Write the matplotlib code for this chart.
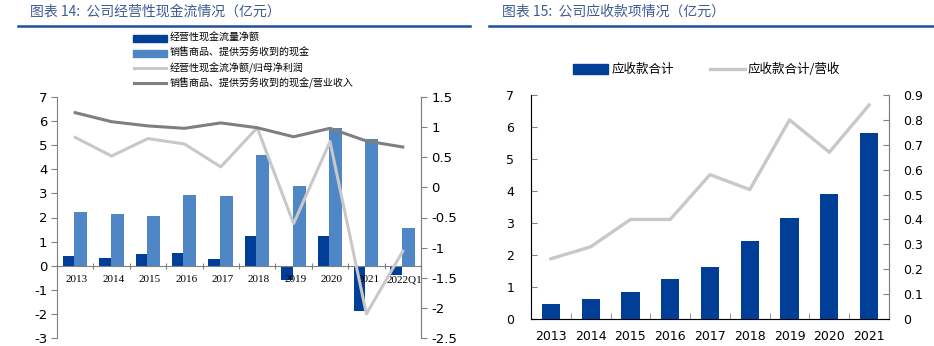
import numpy as np
import matplotlib.pyplot as plt
from matplotlib.patches import Rectangle
from matplotlib.lines import Line2D

plt.rcParams['font.family'] = ['Noto Sans CJK SC', 'DejaVu Sans']
plt.rcParams['axes.unicode_minus'] = False

# --- 图表14 数据 ---
years_l = ['2013', '2014', '2015', '2016', '2017', '2018', '2019', '2020', '2021', '2022Q1']
net_cf = [0.41, 0.30, 0.48, 0.54, 0.28, 1.22, -0.59, 1.25, -1.90, -0.39]
sales_cash = [2.23, 2.16, 2.07, 2.95, 2.89, 4.60, 3.32, 5.70, 5.25, 1.57]
cf_to_np = [0.83, 0.52, 0.81, 0.72, 0.34, 0.99, -0.60, 0.76, -2.10, -1.06]
cash_to_rev = [1.24, 1.09, 1.02, 0.98, 1.07, 0.99, 0.84, 0.98, 0.77, 0.67]

# --- 图表15 数据 ---
years_r = ['2013', '2014', '2015', '2016', '2017', '2018', '2019', '2020', '2021']
recv = [0.48, 0.62, 0.85, 1.25, 1.62, 2.45, 3.16, 3.90, 5.81]
recv_ratio = [0.242, 0.29, 0.40, 0.40, 0.58, 0.52, 0.80, 0.67, 0.86]

dark_blue = '#013E98'
light_blue = '#4F86C6'
light_gray = '#C8C8C8'
dark_gray = '#7F7F7F'
title_c = '#3C5A96'
spine_c = '#808080'
num_font = 'DejaVu Sans'

fig = plt.figure(figsize=(9.34, 3.46), dpi=100)

# --- 标题 ---
fig.text(30 / 934, 1 - 12 / 346, '图表 14:  公司经营性现金流情况（亿元）', fontsize=10,
         color=title_c, style='italic', va='center', ha='left')
fig.text(502 / 934, 1 - 12 / 346, '图表 15:  公司应收款项情况（亿元）', fontsize=10,
         color=title_c, style='italic', va='center', ha='left')
fig.add_artist(Line2D([18 / 934, 470 / 934], [1 - 26 / 346] * 2, color='#1F4E9A', lw=1.8))
fig.add_artist(Line2D([489 / 934, 1.0], [1 - 26 / 346] * 2, color='#1F4E9A', lw=1.8))

# --- 左图 ---
ax = fig.add_axes([57 / 934, 8 / 346, 364 / 934, 241 / 346])
x = np.arange(len(years_l))
ax.bar(x - 0.185, net_cf, width=0.31, color=dark_blue, zorder=2)
ax.bar(x + 0.15, sales_cash, width=0.36, color=light_blue, zorder=2)
ax.set_xlim(-0.5, len(years_l) - 0.5)
ax.set_ylim(-3, 7)
ax.set_yticks(range(-3, 8))
ax.spines['top'].set_visible(False)
ax.spines['bottom'].set_position(('data', 0))
for s in ['left', 'right', 'bottom']:
    ax.spines[s].set_color(spine_c)
ax.set_xticks(np.arange(len(years_l) + 1) - 0.5)
ax.set_xticklabels([])
ax.tick_params(axis='x', direction='inout', length=4, color=spine_c)
ax.tick_params(axis='y', direction='out', length=4, color=spine_c, labelsize=9.5, pad=3)
for t in ax.get_yticklabels():
    t.set_family(num_font)
for i, yl in enumerate(years_l):
    ax.text(i + 0.05, -0.58, yl, ha='center', va='center', fontsize=8, family='Liberation Serif')

ax2 = ax.twinx()
ax2.plot(x, cf_to_np, color=light_gray, lw=2.2, zorder=3)
ax2.plot(x, cash_to_rev, color=dark_gray, lw=2.2, zorder=3)
ax2.set_ylim(-2.5, 1.5)
ax2.set_yticks([-2.5, -2, -1.5, -1, -0.5, 0, 0.5, 1, 1.5])
ax2.set_yticklabels(['-2.5', '-2', '-1.5', '-1', '-0.5', '0', '0.5', '1', '1.5'], family=num_font)
for s in ['left', 'right', 'bottom', 'top']:
    ax2.spines[s].set_visible(s == 'right')
ax2.spines['right'].set_color(spine_c)
ax2.tick_params(axis='y', direction='out', length=4, color=spine_c, labelsize=9.5)

# 左图图例
leg_l = [('bar', dark_blue, '经营性现金流量净额'),
         ('bar', light_blue, '销售商品、提供劳务收到的现金'),
         ('line', light_gray, '经营性现金流净额/归母净利润'),
         ('line', dark_gray, '销售商品、提供劳务收到的现金/营业收入')]
for k, (kind, c, lab) in enumerate(leg_l):
    yy = 1 - (38 + 15 * k) / 346
    if kind == 'bar':
        fig.add_artist(Rectangle((133 / 934, yy - 3.5 / 346), 34 / 934, 7 / 346,
                                 color=c, transform=fig.transFigure))
    else:
        fig.add_artist(Line2D([134 / 934, 166 / 934], [yy, yy], color=c, lw=2.2))
    fig.text(170 / 934, yy, lab, fontsize=7.2, va='center', ha='left')

# --- 右图 ---
bx = fig.add_axes([531 / 934, 27 / 346, 358 / 934, 224 / 346])
xr = np.arange(len(years_r))
bx.bar(xr, recv, width=0.46, color=dark_blue, zorder=2)
bx.set_xlim(-0.5, len(years_r) - 0.5)
bx.set_ylim(0, 7)
bx.set_yticks(range(0, 8))
bx.spines['top'].set_visible(False)
for s in ['left', 'right', 'bottom']:
    bx.spines[s].set_color(spine_c)
bx.set_xticks(xr)
bx.set_xticklabels(years_r, family=num_font)
bx.set_xticks(np.arange(len(years_r) + 1) - 0.5, minor=True)
bx.tick_params(axis='x', which='major', length=0, labelsize=9, pad=8)
bx.tick_params(axis='x', which='minor', direction='in', length=4, color=spine_c)
bx.tick_params(axis='y', direction='in', length=4, color=spine_c, labelsize=9, pad=12)
for t in bx.get_yticklabels():
    t.set_family(num_font)

bx2 = bx.twinx()
bx2.plot(xr, recv_ratio, color=light_gray, lw=2.4, zorder=3)
bx2.set_ylim(0, 0.9)
bx2.set_yticks(np.round(np.arange(0, 0.91, 0.1), 1))
bx2.set_yticklabels(['0'] + ['%.1f' % v for v in np.arange(0.1, 0.91, 0.1)], family=num_font)
bx2.spines['top'].set_visible(False)
bx2.spines['right'].set_color(spine_c)
bx2.tick_params(axis='y', direction='in', length=4, color=spine_c, labelsize=9, pad=10)

# 右图图例
ly = 1 - 69 / 346
fig.add_artist(Rectangle((573 / 934, ly - 5 / 346), 35 / 934, 10 / 346,
                         color=dark_blue, transform=fig.transFigure))
fig.text(612 / 934, ly, '应收款合计', fontsize=9, va='center', ha='left')
fig.add_artist(Line2D([710 / 934, 745 / 934], [ly, ly], color=light_gray, lw=2.4))
fig.text(748 / 934, ly, '应收款合计/营收', fontsize=9, va='center', ha='left')

fig.savefig('out.png', dpi=100)
